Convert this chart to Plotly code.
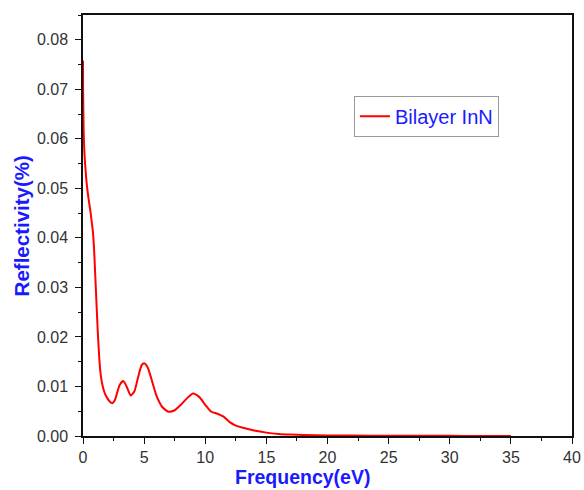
import plotly.graph_objects as go

# Reflectivity spectrum of bilayer InN
freq_ev = [0, 0.01, 0.05, 0.1, 0.2, 0.3, 0.45, 0.6, 0.7, 0.8, 0.9, 1.0, 1.1, 1.2,
           1.3, 1.4, 1.5, 1.6, 1.8, 2.0, 2.2, 2.4, 2.6, 2.8, 3.0, 3.3, 3.6, 3.9,
           4.2, 4.5, 4.8, 5.0, 5.3, 5.6, 6.0, 6.5, 7.0, 7.5, 8.0, 8.5, 9.0, 9.5,
           10.0, 10.5, 11.0, 11.5, 12.0, 12.5, 13, 14, 15, 16, 17, 18, 20, 22,
           25, 28, 30, 32, 35]
reflectivity = [0.0758, 0.070, 0.062, 0.058, 0.054, 0.051, 0.048, 0.0455, 0.0435,
                0.0415, 0.038, 0.0325, 0.027, 0.0215, 0.017, 0.0135, 0.0115, 0.0102,
                0.0085, 0.0076, 0.0069, 0.0066, 0.0072, 0.0088, 0.0103, 0.0111,
                0.0098, 0.0082, 0.0090, 0.0118, 0.0143, 0.0147, 0.0138, 0.0115,
                0.0082, 0.0058, 0.0049, 0.0052, 0.0063, 0.0076, 0.0086, 0.0079,
                0.0063, 0.0049, 0.0045, 0.0039, 0.0028, 0.0021, 0.0017, 0.0011,
                0.00068, 0.00042, 0.00028, 0.0002, 0.00012, 0.00008, 0.00005,
                0.00004, 0.00003, 0.00002, 0.00001]

x_ticks = [0, 5, 10, 15, 20, 25, 30, 35, 40]
y_ticks = [0.00, 0.01, 0.02, 0.03, 0.04, 0.05, 0.06, 0.07, 0.08]

FONT = "Liberation Sans, Arial"
TITLE_BLUE = "#1a1aff"

fig = go.Figure()
fig.add_trace(go.Scatter(
    x=freq_ev, y=reflectivity, mode="lines", name="Bilayer InN",
    line=dict(color="#ff0000", width=2, shape="spline", smoothing=0.6),
))

axis_common = dict(
    showgrid=False, zeroline=False, showline=True, linecolor="#111111",
    linewidth=1.5, mirror=True, ticks="outside", ticklen=6, tickwidth=1.2,
    tickcolor="#111111", automargin=False,
    tickfont=dict(family=FONT, size=16, color="#333333"),
)

fig.update_xaxes(
    range=[0, 40], tickvals=x_ticks, ticktext=[str(v) for v in x_ticks],
    ticklabelstandoff=0,
    minor=dict(ticks="outside", ticklen=3, tickwidth=1.2, tickcolor="#111111",
               dtick=2.5, tick0=0, showgrid=False),
    **axis_common,
)
fig.update_yaxes(
    range=[0, 0.085], tickvals=y_ticks, ticktext=[f"{v:.2f}" for v in y_ticks],
    ticklabelstandoff=4,
    minor=dict(ticks="outside", ticklen=3, tickwidth=1.2, tickcolor="#111111",
               dtick=0.005, tick0=0, showgrid=False),
    **axis_common,
)

fig.add_annotation(
    text="<b>Frequency(eV)</b>", xref="paper", yref="paper",
    x=0.448, y=-0.1283, yanchor="bottom", showarrow=False,
    font=dict(family=FONT, size=19.5, color=TITLE_BLUE),
)
fig.add_annotation(
    text="<b>Reflectivity(%)</b>", xref="paper", yref="paper",
    x=-0.125, y=0.5, xanchor="center", textangle=-90, showarrow=False,
    font=dict(family=FONT, size=20.5, color=TITLE_BLUE),
)

fig.update_layout(
    width=584, height=490,
    margin=dict(l=83, r=12, t=15, b=54),
    paper_bgcolor="white", plot_bgcolor="white",
    showlegend=True,
    legend=dict(
        x=0.554, y=0.808, xanchor="left", yanchor="top",
        bgcolor="white", bordercolor="#999999", borderwidth=1,
        font=dict(family=FONT, size=20, color=TITLE_BLUE),
        itemwidth=30, tracegroupgap=0,
    ),
)

fig.write_html("out.html")
